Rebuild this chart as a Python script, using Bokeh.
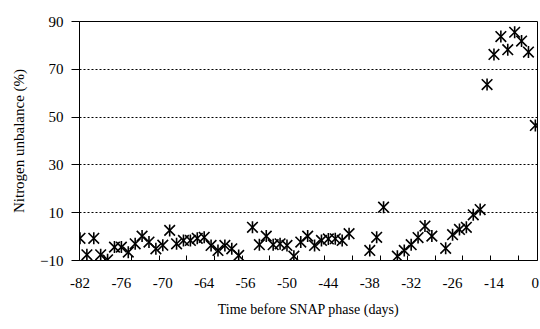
from bokeh.plotting import figure
from bokeh.models import Range1d, FixedTicker
from bokeh.embed import file_html
from bokeh.resources import INLINE

# category index of each measurement (categories 0..66 on the axis)
cat_index = [0, 1, 2, 3, 4, 5, 6, 7, 8, 9, 10, 11, 12, 13, 14, 15, 16, 17, 18, 19,
             20, 21, 22, 23, 25, 26, 27, 28, 29, 30, 31, 32, 33, 34, 35, 36, 37, 38, 39,
             42, 43, 44, 46, 47, 48, 49, 50, 51, 53, 54, 55, 56, 57, 58,
             59, 60, 61, 62, 63, 64, 65, 66]
unbalance = [-0.7, -7.6, -0.7, -7.6, -9.7, -4.4, -4.4, -6.5, -3.0, 0.2, -2.3, -5.1, -3.6, 2.6,
             -3.0, -1.6, -1.6, -0.7, -0.3, -3.7, -5.8, -3.7, -5.1, -7.9, 3.9, -3.4, 0.2, -3.4,
             -3.0, -3.7, -8.2, -2.3, 0.2, -3.7, -1.6, -1.0, -0.9, -1.6, 1.2,
             -5.8, -0.3, 12.3, -8.2, -5.8, -3.4, -0.4, 4.4, 0.2, -4.9, 0.8, 3.0, 3.9, 9.1, 11.3,
             63.6, 76.2, 83.7, 78.2, 85.5, 81.8, 77.2, 46.5]

x_label_pos = [0, 6, 12, 18, 24, 30, 36, 42, 48, 54, 60, 66]
x_labels = ["-82", "-76", "-70", "-64", "-56", "-50", "-44", "-38", "-32", "-26", "-14", "0"]
x_minor_pos = [3.5 + 4 * k for k in range(16)]
y_ticks = [-10, 10, 30, 50, 70, 90]

FONT = "Liberation Serif"

p = figure(width=540, height=329, output_backend="svg", toolbar_location=None,
           x_range=Range1d(-0.07, 66.31), y_range=Range1d(-10, 90),
           min_border_left=79, min_border_right=3, min_border_top=21, min_border_bottom=69,
           background_fill_color="white", border_fill_color="white")

p.outline_line_color = "black"
p.outline_line_width = 1

# x axis
p.xaxis.ticker = FixedTicker(ticks=x_label_pos, minor_ticks=x_minor_pos)
p.xaxis.major_label_overrides = {pos: lab for pos, lab in zip(x_label_pos, x_labels)}
p.xaxis.major_tick_in = 0
p.xaxis.major_tick_out = 0
p.xaxis.minor_tick_in = 5
p.xaxis.minor_tick_out = 0
p.xaxis.minor_tick_line_color = "black"
p.xaxis.major_label_standoff = 17
p.xaxis.axis_label = "Time before SNAP phase (days)"
p.xaxis.axis_label_standoff = 11
p.xaxis.axis_label_text_font_size = "14px"

# y axis
p.yaxis.ticker = FixedTicker(ticks=y_ticks)
p.yaxis.major_tick_in = 0
p.yaxis.major_tick_out = 8
p.yaxis.minor_tick_line_color = None
p.yaxis.major_label_standoff = 8
p.yaxis.axis_label = "Nitrogen unbalance (%)"
p.yaxis.axis_label_standoff = 10
p.yaxis.axis_label_text_font_size = "15px"

for ax in (p.xaxis, p.yaxis):
    ax.axis_line_color = "black"
    ax.major_tick_line_color = "black"
    ax.major_label_text_font = FONT
    ax.major_label_text_font_size = "15px"
    ax.major_label_text_color = "black"
    ax.axis_label_text_font = FONT
    ax.axis_label_text_font_style = "normal"
    ax.axis_label_text_color = "black"

p.xgrid.grid_line_color = None
p.ygrid.ticker = FixedTicker(ticks=y_ticks)
p.ygrid.grid_line_color = "black"
p.ygrid.grid_line_dash = "2 2"
p.ygrid.grid_line_width = 1

p.scatter(cat_index, unbalance, marker="x", size=15, line_color="black", line_width=1.6)
p.scatter(cat_index, unbalance, marker="dash", angle=1.5708, size=12, line_color="black", line_width=1.6)

open("out.html", "w").write(file_html(p, INLINE))
